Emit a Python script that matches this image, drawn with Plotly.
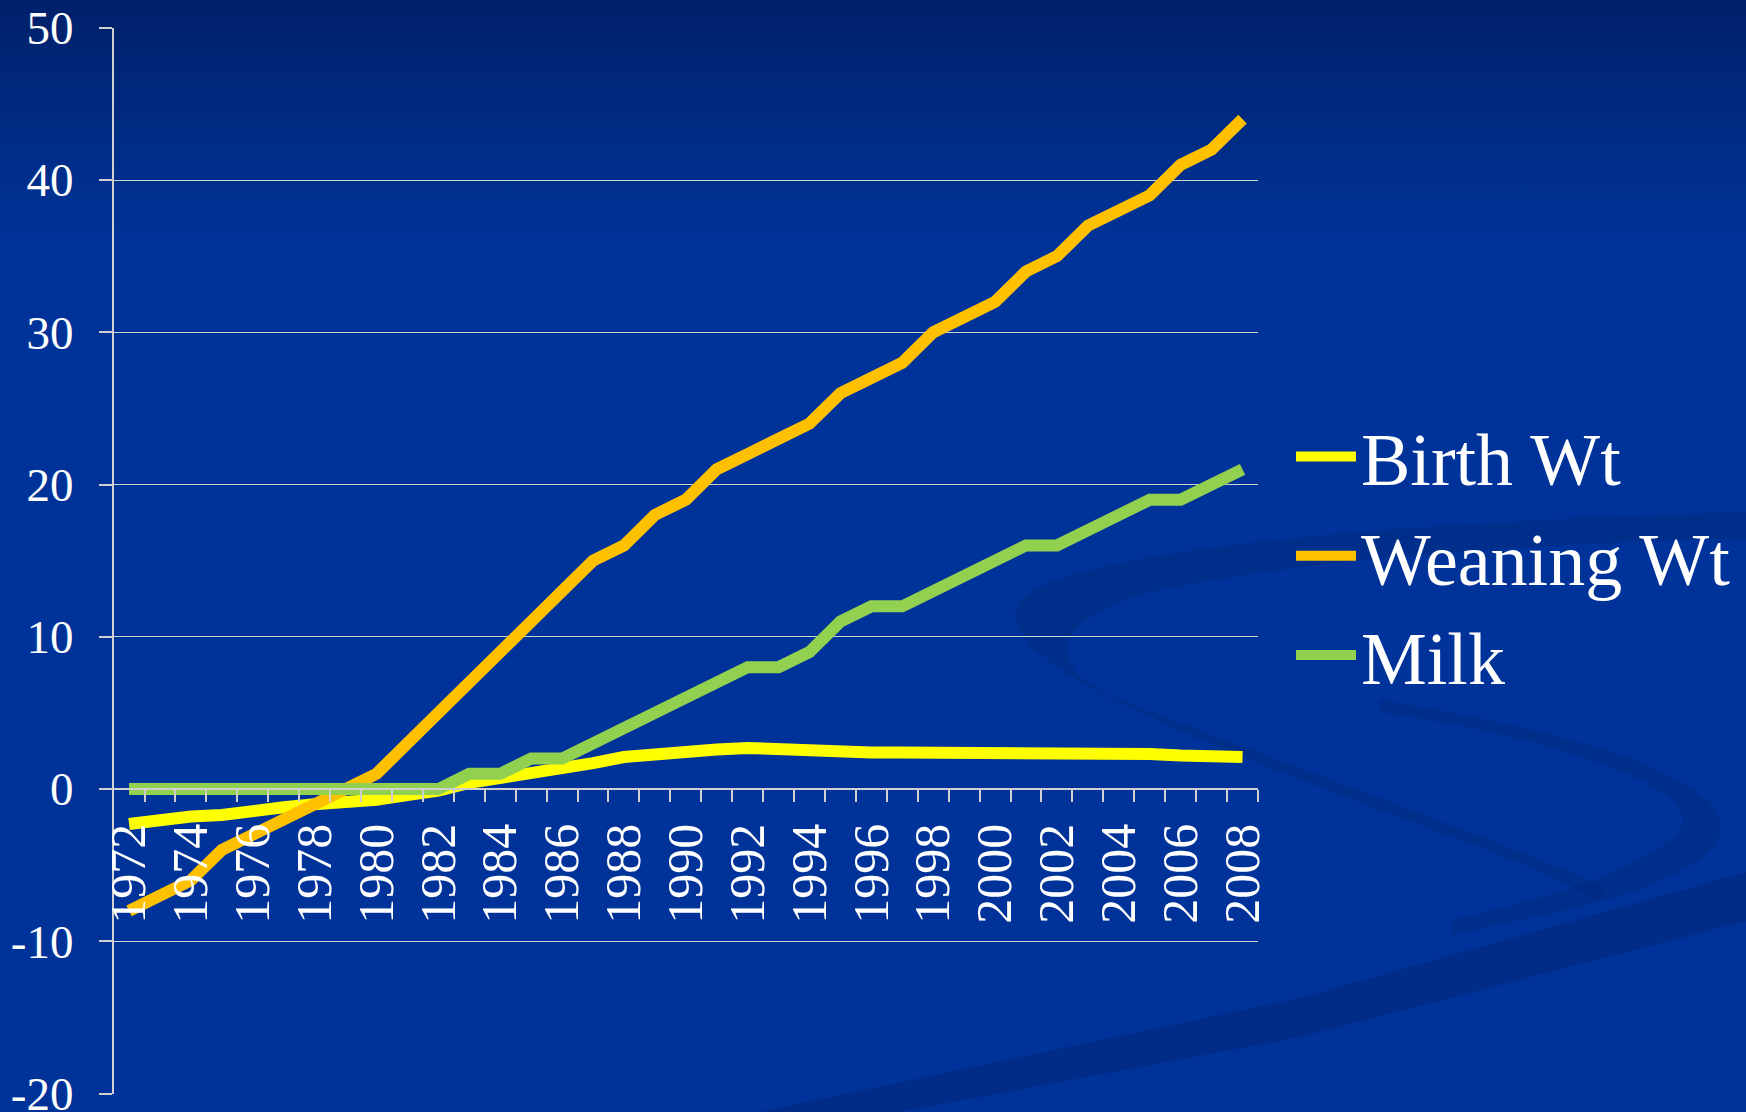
import base64
import plotly.graph_objects as go

# ---------------- data ----------------
years = list(range(1972, 2009))
birth_wt = [-2.3, -2.0, -1.8, -1.7, -1.4, -1.2, -1.0, -0.9, -0.7, -0.4,
            -0.1, 0.4, 0.7, 1.1, 1.4, 1.7, 2.1, 2.3, 2.4, 2.6,
            2.7, 2.6, 2.6, 2.4, 2.4, 2.4, 2.4, 2.4, 2.4, 2.4,
            2.4, 2.4, 2.3, 2.3, 2.2, 2.2, 2.1]
weaning_wt = [-8, -7, -6, -4, -3, -2, -1, 0, 1, 3,
              5, 7, 9, 11, 13, 15, 16, 18, 19, 21,
              22, 23, 24, 26, 27, 28, 30, 31, 32, 34,
              35, 37, 38, 39, 41, 42, 44]
milk = [0, 0, 0, 0, 0, 0, 0, 0, 0, 0,
        0, 1, 1, 2, 2, 3, 4, 5, 6, 7,
        8, 8, 9, 11, 12, 12, 13, 14, 15, 16,
        16, 17, 18, 19, 19, 20, 21]
series_names = ["Birth Wt", "Weaning Wt", "Milk"]
series_colors = ["#FFFF00", "#FFC000", "#92D050"]
y_ticks = [-20, -10, 0, 10, 20, 30, 40, 50]
y_tick_labels = ["-20", "-10", "0", "10", "20", "30", "40", "50"]
x_label_years = list(range(1972, 2009, 2))

# ---------------- geometry ----------------
W, H = 1746, 1112
x_dom = [113.6 / W, 1258 / W]
y_dom = [1 - 1093.5 / H, 1 - 27.8 / H]
y_min, y_max = -20, 50
zero_pos = y_dom[0] + (y_dom[1] - y_dom[0]) * (0 - y_min) / (y_max - y_min)

# background (slide gradient + decorative swooshes)
svg = f'''<svg xmlns="http://www.w3.org/2000/svg" width="{W}" height="{H}" viewBox="0 0 {W} {H}">
<defs><linearGradient id="g" x1="0" y1="0" x2="0" y2="1">
<stop offset="0" stop-color="#00206A"/>
<stop offset="0.10" stop-color="#002A80"/>
<stop offset="0.22" stop-color="#003399"/>
<stop offset="1" stop-color="#003399"/>
</linearGradient></defs>
<rect width="{W}" height="{H}" fill="url(#g)"/>
<path fill="#00277A" fill-opacity="0.45"
 d="M1746,512 C1300,525 1010,560 1015,615 C1020,680 1250,760 1460,840 C1520,862 1560,880 1600,900
    L1606,888 C1520,848 1300,770 1120,700 C1045,668 1045,622 1150,592 C1300,560 1500,545 1746,538 Z"/>
<path fill="#00277A" fill-opacity="0.40"
 d="M1380,700 C1600,735 1765,790 1710,850 C1670,892 1560,912 1450,935
    L1452,920 C1560,895 1650,866 1680,830 C1702,792 1580,742 1380,712 Z"/>
<path fill="#00277A" fill-opacity="0.55"
 d="M760,1112 L1300,998 L1746,872 L1746,921 L1300,1037 L900,1112 Z"/>
</svg>'''
bg_src = "data:image/svg+xml;base64," + base64.b64encode(svg.encode()).decode()

serif = "Liberation Serif, Times New Roman, serif"
grid_col = "#D0D0D0"

fig = go.Figure()
for name, vals, col in zip(series_names, [birth_wt, weaning_wt, milk], series_colors):
    fig.add_trace(go.Scatter(
        x=years, y=vals, name=name, mode="lines",
        line=dict(color=col, width=12),
    ))

fig.update_layout(
    width=W, height=H, autosize=False,
    margin=dict(l=0, r=0, t=0, b=0),
    paper_bgcolor="#003399",
    plot_bgcolor="rgba(0,0,0,0)",
    images=[dict(source=bg_src, xref="paper", yref="paper", x=0, y=1,
                 sizex=1, sizey=1, sizing="stretch", layer="below",
                 xanchor="left", yanchor="top")],
    showlegend=True,
    legend=dict(
        x=1291 / W, xanchor="left", y=1 - 556 / H, yanchor="middle",
        font=dict(family=serif, size=74, color="white"),
        bgcolor="rgba(0,0,0,0)", itemwidth=60, tracegroupgap=0,
    ),
    xaxis=dict(
        domain=x_dom, anchor="free", position=zero_pos,
        range=[1971.5, 2008.5], showgrid=False, zeroline=False,
        showline=True, linecolor=grid_col, linewidth=1.5,
        tickmode="array", tickvals=x_label_years,
        ticktext=[str(y) for y in x_label_years],
        ticks="", tickangle=-90, ticklabelstandoff=14,
        tickfont=dict(family=serif, size=50, color="white"),
        minor=dict(tickmode="array",
                   tickvals=[y + 0.5 for y in years],
                   ticks="outside", ticklen=12, tickcolor=grid_col,
                   tickwidth=1.5, showgrid=False),
        automargin=False,
    ),
    yaxis=dict(
        domain=y_dom, range=[y_min, y_max],
        tickmode="array", tickvals=y_ticks, ticktext=y_tick_labels,
        showgrid=True, gridcolor=grid_col, gridwidth=1,
        zeroline=False, showline=True, linecolor=grid_col, linewidth=1.5,
        ticks="outside", ticklen=13, tickcolor=grid_col, tickwidth=1.5,
        ticklabelstandoff=16, ticklabeloverflow="allow",
        tickfont=dict(family=serif, size=47, color="white"),
        automargin=False,
    ),
)

fig.write_html(
    "out.html",
    config={"responsive": False},
    post_script="document.body.style.margin='0';document.body.style.overflow='hidden';",
)
